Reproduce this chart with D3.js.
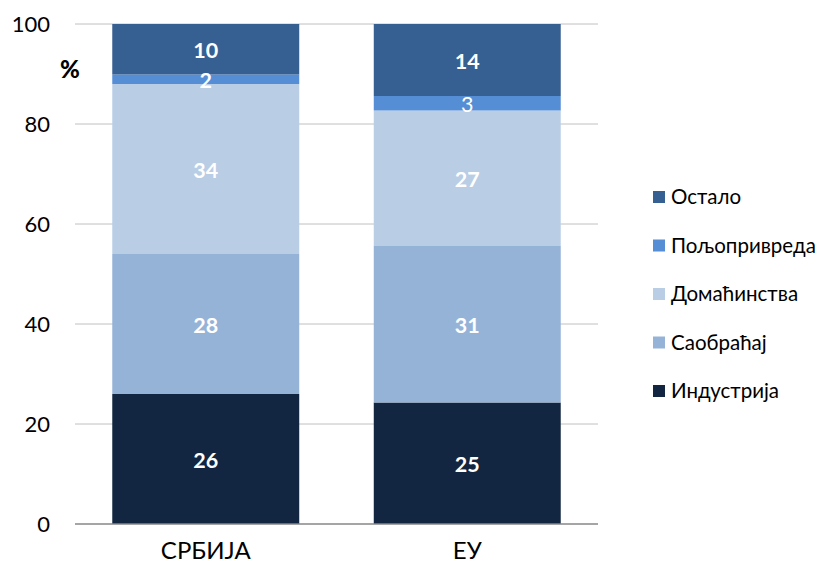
<!DOCTYPE html>
<html><head><meta charset="utf-8">
<script src="https://cdn.jsdelivr.net/npm/d3@7"></script>
<style>body{margin:0;background:#fff}svg{display:block}</style>
</head><body>
<svg id="c" width="819" height="564"></svg>
<script>
const categories = ["СРБИЈА", "ЕУ"];
const seriesNames = ["Индустрија", "Саобраћај", "Домаћинства", "Пољопривреда", "Остало"];
const industrija   = [26, 24.3];
const saobracaj    = [28, 31.3];
const domacinstva  = [34, 27.1];
const poljoprivreda= [1.9, 2.9];
const ostalo       = [10.1, 14.4];
const labelsSrb = ["26", "28", "34", "2", "10"];
const labelsEu  = ["25", "31", "27", "3", "14"];
const yTicks = [0, 20, 40, 60, 80, 100];
const colors = ["#132641", "#95b3d7", "#b9cde5", "#558ed5", "#376092"];

(function () {
const seriesVals = [industrija, saobracaj, domacinstva, poljoprivreda, ostalo];
const labels = [labelsSrb, labelsEu];
const rows = categories.map((c, i) => {
  const o = {cat: c};
  seriesNames.forEach((s, j) => o[s] = seriesVals[j][i]);
  return o;
});
const stack = d3.stack().keys(seriesNames)(rows);

const svg = d3.select("#c");
const font = "Lato, 'Open Sans', sans-serif";
const pLeft = 75, pRight = 598, pTop = 24, pBottom = 524;
const x = d3.scaleBand().domain(categories).range([pLeft, pRight]).paddingInner(0.285).paddingOuter(0.1425);
const y = d3.scaleLinear().domain([0, 100]).range([pBottom, pTop]);

// gridlines
svg.append("g").selectAll("line").data(yTicks.filter(t => t > 0)).join("line")
  .attr("x1", pLeft).attr("x2", pRight)
  .attr("y1", d => y(d)).attr("y2", d => y(d))
  .attr("stroke", "#c0c0c0").attr("stroke-width", 1);

// y tick labels
svg.append("g").selectAll("text").data(yTicks).join("text")
  .attr("x", 50).attr("y", d => y(d)).attr("dy", "0.35em")
  .attr("text-anchor", "end").attr("font-family", font).attr("font-size", 22)
  .attr("fill", "#000").text(d => d);

// bars
const g = svg.append("g");
stack.forEach((layer, j) => {
  g.selectAll(null).data(layer).join("rect")
    .attr("x", d => x(d.data.cat)).attr("width", x.bandwidth())
    .attr("y", d => y(d[1])).attr("height", d => y(d[0]) - y(d[1]))
    .attr("fill", colors[j]);
});
// labels
stack.forEach((layer, j) => {
  g.selectAll(null).data(layer).join("text")
    .attr("x", d => x(d.data.cat) + x.bandwidth() / 2)
    .attr("y", d => (y(d[0]) + y(d[1])) / 2 + 1)
    .attr("dy", "0.35em").attr("text-anchor", "middle")
    .attr("font-family", font).attr("font-size", 21.5)
    .attr("font-weight", (d, i) => labels[i][j] === "3" ? "normal" : "bold")
    .attr("fill", "#fff")
    .text((d, i) => labels[i][j]);
});

// x axis line
svg.append("line").attr("x1", pLeft).attr("x2", pRight).attr("y1", pBottom).attr("y2", pBottom)
  .attr("stroke", "#878787").attr("stroke-width", 1.5);

// category labels
svg.append("g").selectAll("text").data(categories).join("text")
  .attr("x", d => x(d) + x.bandwidth() / 2).attr("y", 551).attr("dy", "0.35em")
  .attr("text-anchor", "middle").attr("font-family", font).attr("font-size", 24)
  .text(d => d);

// percent sign
svg.append("text").attr("x", 70).attr("y", 70).attr("dy", "0.35em").attr("text-anchor", "middle")
  .attr("font-family", font).attr("font-size", 24).attr("font-weight", "900").text("%");

// legend
const legendOrder = seriesNames.map((s, j) => ({name: s, color: colors[j]})).reverse();
const lg = svg.append("g").selectAll("g").data(legendOrder).join("g")
  .attr("transform", (d, i) => `translate(653, ${197 + i * 48.5})`);
lg.append("rect").attr("x", 0).attr("y", -6).attr("width", 12).attr("height", 12).attr("fill", d => d.color);
lg.append("text").attr("x", 18).attr("y", 0).attr("dy", "0.35em")
  .attr("font-family", font).attr("font-size", 20.5).text(d => d.name);
})();
</script>
</body></html>
